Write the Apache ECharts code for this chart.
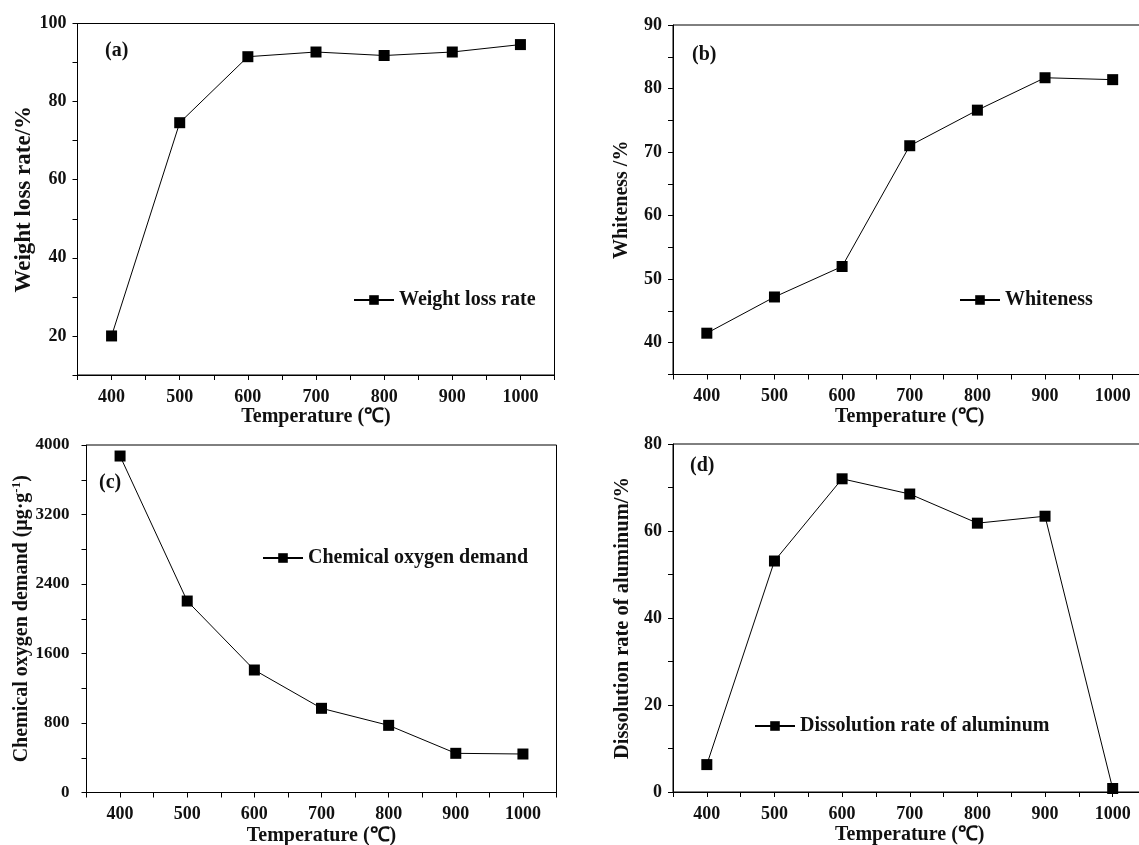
<!DOCTYPE html>
<html>
<head>
<meta charset="utf-8">
<title>Calcination temperature</title>
<script src="https://cdn.jsdelivr.net/npm/echarts@6/dist/echarts.min.js"></script>
<style>
  html, body { margin: 0; padding: 0; background: #fff; }
  #chart { width: 1139px; height: 845px; }
</style>
</head>
<body>
<div id="chart"></div>
<script>
// 焙烧温度 (℃)
const temperature = [400, 500, 600, 700, 800, 900, 1000];
// (a) 失重率 %
const weightLoss = [20, 74.6, 91.5, 92.7, 91.8, 92.7, 94.6];
// (b) 白度 %
const whiteness = [41.5, 47.2, 52.0, 71.0, 76.6, 81.7, 81.4];
// (c) COD μg/g
const cod = [3873, 2204, 1410, 969, 773, 451, 443];
// (d) 铝溶出率 %
const alDissolution = [6.3, 53.1, 72.0, 68.5, 61.8, 63.4, 0.8];

const panelLabels = ['(a)', '(b)', '(c)', '(d)'];
const seriesNames = ['Weight loss rate', 'Whiteness', 'Chemical oxygen demand', 'Dissolution rate of aluminum'];
const yNames = [
  'Weight loss rate/%',
  'Whiteness /%',
  '{n|Chemical oxygen demand (μg·g}{s|-1}{n|)}',
  'Dissolution rate of aluminum/%'
];
const xName = 'Temperature (℃)';

const font = '"Liberation Serif", "Times New Roman", serif';
const ink = '#111';

const chart = echarts.init(document.getElementById('chart'));

const pairs = (ys) => temperature.map((t, i) => [t, ys[i]]);

// 网格位置 (b)(d) 右边框在画面外
const grids = [
  { left: 77.5, top: 23.5, width: 477, height: 351.5 },
  { left: 673, top: 25, width: 473.5, height: 349.5 },
  { left: 86.5, top: 445, width: 470, height: 347.5 },
  { left: 673, top: 444, width: 473.5, height: 348 }
];
const yRanges = [
  { min: 10, max: 100, interval: 10, label: 20 },
  { min: 35, max: 90, interval: 5, label: 10 },
  { min: 0, max: 4000, interval: 400, label: 800 },
  { min: 0, max: 80, interval: 10, label: 20 }
];
const yGaps = [42, 41, 47, 40];
const yNameSize = [23, 20, 20, 20.5];
const yLabelSize = [18, 18, 17, 18];
const yLabelMargin = [11, 11, 17, 11];
const xGaps = [32, 31, 33, 33];
const legendPos = [
  { left: 353, top: 290 },
  { left: 959, top: 290 },
  { left: 262, top: 548 },
  { left: 754, top: 716 }
];
const labelPos = [[105, 53], [692, 57], [99, 485], [690, 468]];
const allData = [weightLoss, whiteness, cod, alDissolution];

const axisLine = { show: true, lineStyle: { color: '#000', width: 1 } };
const tickStyle = { show: true, inside: false, length: 5, lineStyle: { color: '#000', width: 1 } };

const option = {
  animation: false,
  backgroundColor: '#fff',
  grid: grids.map(g => Object.assign({
    show: true, borderColor: '#000', borderWidth: 1, backgroundColor: 'transparent',
    containLabel: false, outerBoundsMode: 'none'
  }, g)),
  xAxis: grids.map((g, i) => ({
    type: 'value',
    gridIndex: i,
    min: 350,
    max: 1050,
    interval: 50,
    name: xName,
    nameLocation: 'middle',
    nameGap: xGaps[i],
    nameTextStyle: { fontFamily: font, fontSize: 20, fontWeight: 'bold', color: ink },
    axisLine: axisLine,
    axisTick: tickStyle,
    splitLine: { show: false },
    axisLabel: {
      margin: 13,
      fontFamily: font,
      fontSize: 18,
      fontWeight: 'bold',
      color: ink,
      formatter: (v) => (v % 100 === 0 ? String(v) : '')
    }
  })),
  yAxis: grids.map((g, i) => ({
    type: 'value',
    gridIndex: i,
    min: yRanges[i].min,
    max: yRanges[i].max,
    interval: yRanges[i].interval,
    name: yNames[i],
    nameLocation: 'middle',
    nameGap: yGaps[i],
    nameTextStyle: {
      fontFamily: font, fontSize: yNameSize[i], fontWeight: 'bold', color: ink,
      rich: {
        n: { fontFamily: font, fontSize: 20, fontWeight: 'bold', color: ink },
        s: { fontFamily: font, fontSize: 13, fontWeight: 'bold', color: ink, verticalAlign: 'top', padding: [0, 0, 10, 0] }
      }
    },
    axisLine: axisLine,
    axisTick: tickStyle,
    splitLine: { show: false },
    axisLabel: {
      margin: yLabelMargin[i],
      fontFamily: font,
      fontSize: yLabelSize[i],
      fontWeight: 'bold',
      color: ink,
      formatter: (v) => (v % yRanges[i].label === 0 ? String(v) : '')
    }
  })),
  legend: legendPos.map((p, i) => ({
    data: [seriesNames[i]],
    left: p.left,
    top: p.top,
    padding: 0,
    itemWidth: 40,
    itemHeight: 12,
    textStyle: { fontFamily: font, fontSize: 20, fontWeight: 'bold', color: ink }
  })),
  graphic: labelPos.map((p, i) => ({
    type: 'text',
    left: p[0],
    top: p[1] - 12,
    style: { text: panelLabels[i], font: 'bold 20px ' + font, fill: ink }
  })),
  series: allData.map((d, i) => ({
    name: seriesNames[i],
    type: 'line',
    xAxisIndex: i,
    yAxisIndex: i,
    data: pairs(d),
    symbol: 'rect',
    symbolSize: 11,
    color: '#000',
    itemStyle: { color: '#000' },
    lineStyle: { color: '#000', width: 1 }
  }))
};

chart.setOption(option);
</script>
</body>
</html>
